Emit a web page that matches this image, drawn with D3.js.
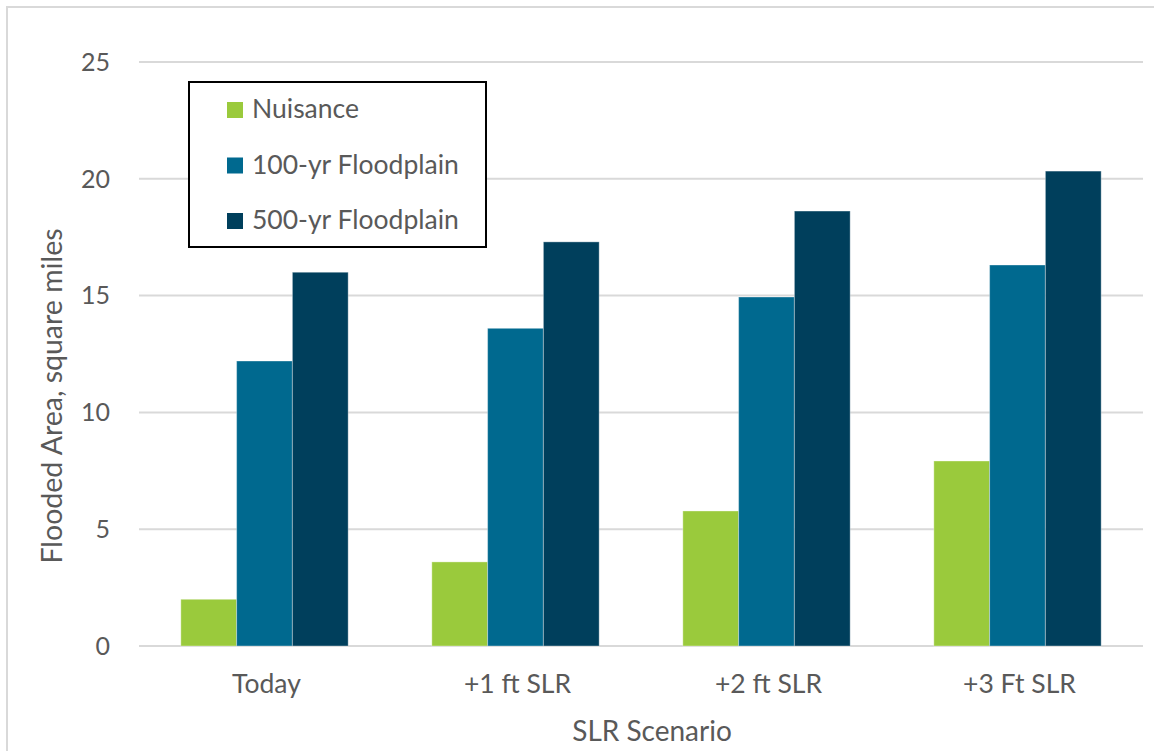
<!DOCTYPE html>
<html>
<head>
<meta charset="utf-8">
<script src="https://cdn.jsdelivr.net/npm/d3@7"></script>
<style>
  html, body { margin: 0; padding: 0; background: #fff; }
  svg { display: block; }
  text { font-family: Lato, "Open Sans", sans-serif; fill: #595959; }
</style>
</head>
<body>
<svg id="chart" width="1154" height="751"></svg>
<script>
const categories = ["Today", "+1 ft SLR", "+2 ft SLR", "+3 Ft SLR"];
const seriesNames = ["Nuisance", "100-yr Floodplain", "500-yr Floodplain"];
const nuisance = [2.0, 3.6, 5.78, 7.92];
const floodplain100 = [12.2, 13.6, 14.94, 16.31];
const floodplain500 = [16.0, 17.3, 18.62, 20.33];
const yTicks = [0, 5, 10, 15, 20, 25];
const colors = ["#9aca3c", "#00698f", "#003f5c"];

const seriesValues = [nuisance, floodplain100, floodplain500];

const svg = d3.select("#chart");
const W = 1154, H = 751;

// outer chart border
svg.append("rect")
  .attr("x", 7).attr("y", 7).attr("width", W + 10).attr("height", H + 10)
  .attr("fill", "none").attr("stroke", "#d9d9d9").attr("stroke-width", 2);

const plot = { left: 139, right: 1143, top: 62, bottom: 646 };

const y = d3.scaleLinear().domain([0, 25]).range([plot.bottom, plot.top]);
const x0 = d3.scaleBand().domain(categories).range([plot.left, plot.right]).padding(0);
const bw = x0.bandwidth();
const x1 = d3.scaleBand().domain(seriesNames).range([bw / 6, bw * 5 / 6]).padding(0);

// gridlines
svg.append("g").selectAll("line").data(yTicks).join("line")
  .attr("x1", plot.left).attr("x2", plot.right)
  .attr("y1", d => y(d)).attr("y2", d => y(d))
  .attr("stroke", "#d9d9d9").attr("stroke-width", 2);

// y tick labels
svg.append("g").selectAll("text").data(yTicks).join("text")
  .attr("x", 110).attr("y", d => y(d))
  .attr("dy", "0.35em")
  .attr("text-anchor", "end")
  .attr("font-size", 25)
  .text(d => d);

// bars
const groups = svg.append("g").selectAll("g").data(categories).join("g")
  .attr("transform", d => `translate(${x0(d)},0)`);

groups.selectAll("rect")
  .data((c, ci) => seriesNames.map((s, si) => ({ s, si, v: seriesValues[si][ci] })))
  .join("rect")
  .attr("x", d => x1(d.s))
  .attr("y", d => y(d.v))
  .attr("width", x1.bandwidth())
  .attr("height", d => y(0) - y(d.v))
  .attr("fill", d => colors[d.si])
  .attr("stroke", "#ffffff").attr("stroke-opacity", 0.35).attr("stroke-width", 1);

// category labels
svg.append("g").selectAll("text").data(categories).join("text")
  .attr("x", d => x0(d) + bw / 2 + 2)
  .attr("y", 693)
  .attr("text-anchor", "middle")
  .attr("font-size", 26.5)
  .text(d => d);

// axis titles
svg.append("text")
  .attr("x", 652).attr("y", 741)
  .attr("text-anchor", "middle")
  .attr("font-size", 28)
  .text("SLR Scenario");

svg.append("text")
  .attr("transform", `translate(62,396) rotate(-90)`)
  .attr("text-anchor", "middle")
  .attr("font-size", 28.5)
  .text("Flooded Area, square miles");

// legend
const legend = svg.append("g");
legend.append("rect")
  .attr("x", 189).attr("y", 82).attr("width", 297).attr("height", 165)
  .attr("fill", "#fff").attr("stroke", "#000").attr("stroke-width", 2);

const rows = legend.selectAll("g.row").data(seriesNames).join("g")
  .attr("class", "row")
  .attr("transform", (d, i) => `translate(227,${118 + i * 55.5})`);
rows.append("rect")
  .attr("x", 0).attr("y", -16).attr("width", 16).attr("height", 16)
  .attr("fill", (d, i) => colors[i]);
rows.append("text")
  .attr("x", 25).attr("y", 0)
  .attr("font-size", 26.5)
  .text(d => d);
</script>
</body>
</html>
